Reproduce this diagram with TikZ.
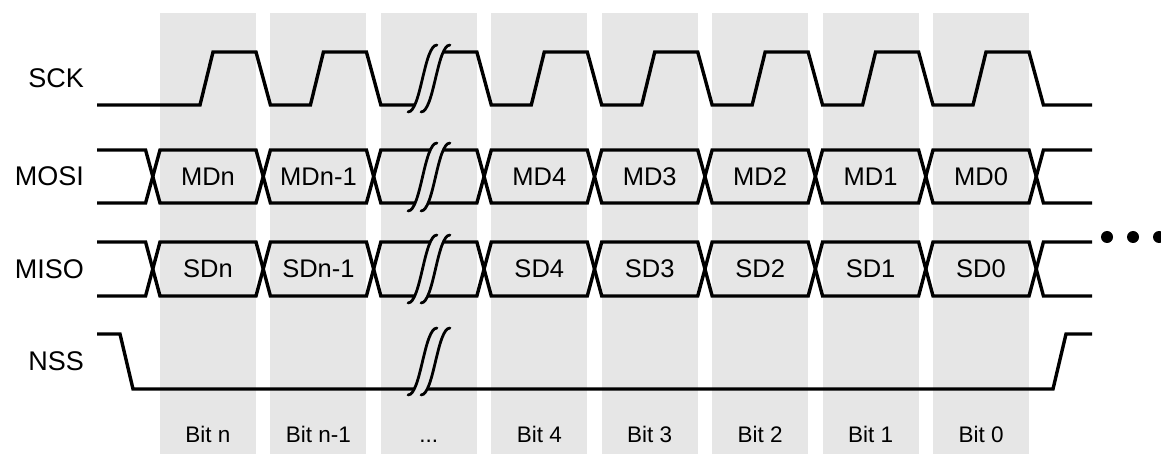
\documentclass[tikz,border=0pt]{standalone}
\usepackage{fontspec}
\setmainfont{Liberation Sans}
\definecolor{bgray}{RGB}{230,230,230}
\tikzset{
  sig/.style={line width=3.4pt, line join=miter, line cap=butt},
  brkline/.style={line width=2.8pt, line cap=round},
  lab/.style={font=\fontsize{27}{30}\selectfont, inner sep=0pt, anchor=east},
  dat/.style={font=\fontsize{25.5}{28}\selectfont, inner sep=0pt},
  bitlab/.style={font=\fontsize{22.5}{25}\selectfont, inner sep=0pt, anchor=base},
}
\def\pitch{110.43}
\newcommand\busrow[2]{%
  \draw[sig] (97,#1) \foreach \k [evaluate=\k as \ya using {#1+(#2-#1)*mod(\k,2)}, evaluate=\k as \yb using {#2-(#2-#1)*mod(\k,2)}] in {0,...,8} { -- ({145.57+\k*\pitch},\ya) -- ({160+\k*\pitch},\yb) } -- (1092,#2);
  \draw[sig] (97,#2) \foreach \k [evaluate=\k as \ya using {#2-(#2-#1)*mod(\k,2)}, evaluate=\k as \yb using {#1+(#2-#1)*mod(\k,2)}] in {0,...,8} { -- ({145.57+\k*\pitch},\ya) -- ({160+\k*\pitch},\yb) } -- (1092,#1);
}
\newcommand\brkmark[2]{%
  \fill[bgray] (408,#2) .. controls (421,#2) and (424,#1) .. (437,#1) -- (450,#1) .. controls (437,#1) and (434,#2) .. (421,#2) -- cycle;
  \draw[brkline] (408,#2) .. controls (421,#2) and (424,#1) .. (437,#1);
  \draw[brkline] (421,#2) .. controls (434,#2) and (437,#1) .. (450,#1);
}
\begin{document}
\begin{tikzpicture}[x=1pt,y=-1pt]
\useasboundingbox (0,0) rectangle (1161,454);
% columns
\foreach \k in {0,...,7} {
  \fill[bgray] ({160+\k*\pitch},13) rectangle ({256+\k*\pitch},454);
}
% SCK
\draw[sig] (97,105) \foreach \k in {0,...,7} { -- ({160+\k*\pitch+40},105) -- ({160+\k*\pitch+53},52) -- ({160+\k*\pitch+96},52) -- ({160+(\k+1)*\pitch},105) } -- (1092,105);
% MOSI, MISO
\busrow{150}{203}
\busrow{242}{296}
% NSS
\draw[sig] (97,334) -- (120,334) -- (133,389) -- (1053,389) -- (1066,334) -- (1092,334);
% break marks
\brkmark{45}{112}
\brkmark{143}{211}
\brkmark{235}{303}
\brkmark{328}{395}
% dots
\fill (1107,237) circle[radius=6pt];
\fill (1133,237) circle[radius=6pt];
\fill (1159,237) circle[radius=6pt];
% labels
\node[lab] (sck) at (84,78.5) {SCK};
\node[lab] (mosi) at (84,176.5) {MOSI};
\node[lab] (miso) at (84,269) {MISO};
\node[lab] (nss) at (84,361.5) {NSS};
\foreach \k/\t in {0/MDn,1/MDn-1,3/MD4,4/MD3,5/MD2,6/MD1,7/MD0} {
  \node[dat] (md\k) at ({208+\k*\pitch},176.5) {\t};
}
\foreach \k/\t in {0/SDn,1/SDn-1,3/SD4,4/SD3,5/SD2,6/SD1,7/SD0} {
  \node[dat] (sd\k) at ({208+\k*\pitch},269) {\t};
}
\foreach \k/\t in {0/Bit n,1/Bit n-1,3/Bit 4,4/Bit 3,5/Bit 2,6/Bit 1,7/Bit 0} {
  \node[bitlab] (bit\k) at ({208+\k*\pitch},442) {\t};
}
\node[bitlab] (bit2) at ({208+2*\pitch},442) {...};
\end{tikzpicture}
\end{document}
